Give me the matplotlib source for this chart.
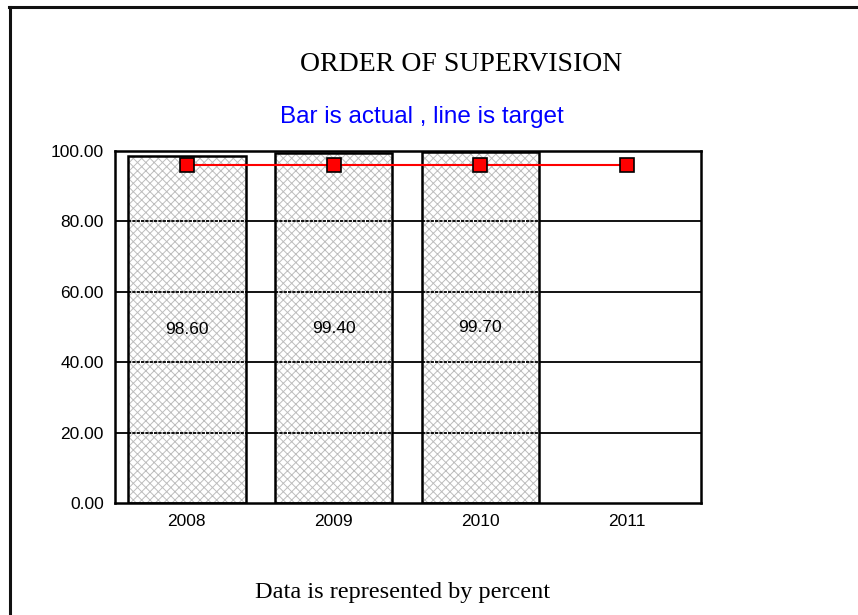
import matplotlib
matplotlib.use("Agg")
import matplotlib.pyplot as plt
from matplotlib.lines import Line2D

years = ["2008", "2009", "2010", "2011"]
actual = [98.60, 99.40, 99.70, None]
target = [96.0, 96.0, 96.0, 96.0]
yticks = [0, 20, 40, 60, 80, 100]

plt.rcParams['hatch.linewidth'] = 0.7

fig = plt.figure(figsize=(8.58, 6.15), dpi=100)
ax = fig.add_axes([115/858, 1-503/615, 586/858, 352/615])

xs = list(range(len(years)))
bx = [x for x, v in zip(xs, actual) if v is not None]
bv = [v for v in actual if v is not None]

for y in yticks[1:-1]:
    ax.axhline(y, color='black', lw=1.3, zorder=1)

hatched = ax.bar(bx, bv, width=0.8, facecolor='white', edgecolor='#bdbdbd',
                 hatch='xxxx', linewidth=0, zorder=2)
ax.bar(bx, bv, width=0.8, fill=False, edgecolor='black', linewidth=1.8, zorder=4)

for p in hatched.patches:
    x0, w = p.get_x(), p.get_width()
    for y in yticks[1:-1]:
        if y < p.get_height():
            ax.plot([x0, x0 + w], [y, y], color='black', lw=1.3,
                    linestyle=(0, (1.8, 0.6)), zorder=3)
    ax.text(x0 + w/2, p.get_height()/2, f"{p.get_height():.2f}", ha='center',
            va='center', fontsize=12.5, family='Liberation Sans', zorder=5)

ax.plot(xs, target, color='red', lw=1.5, marker='s', markersize=9.5,
        markerfacecolor='red', markeredgecolor='black', markeredgewidth=1.2, zorder=6)

ax.set_xlim(-0.49, 3.505)
ax.set_ylim(0, 100)
ax.set_yticks(yticks)
ax.set_yticklabels([f"{v:.2f}" for v in yticks])
ax.set_xticks(xs)
ax.set_xticklabels(years)
ax.tick_params(length=0, pad=8, labelsize=12.5)
for lab in ax.get_xticklabels() + ax.get_yticklabels():
    lab.set_family('Liberation Sans')
for s in ax.spines.values():
    s.set_linewidth(1.8)
    s.set_zorder(7)

fig.text(461/858, 1-71/615, "ORDER OF SUPERVISION", ha='center', va='baseline',
         fontsize=20, family='Liberation Serif')
fig.text(422/858, 1-122.5/615, "Bar is actual , line is target", ha='center',
         va='baseline', fontsize=17.5, family='Liberation Sans', color='#0000ff')
fig.text(403/858, 1-598/615, "Data is represented by percent", ha='center',
         va='baseline', fontsize=17.5, family='Liberation Serif')

fig.add_artist(Line2D([10/858, 10/858], [0, 1-7/615], transform=fig.transFigure,
                      color='#111111', lw=2.2))
fig.add_artist(Line2D([9/858, 1], [1-7/615, 1-7/615], transform=fig.transFigure,
                      color='#111111', lw=2.2))

fig.savefig("out.png", dpi=100)
